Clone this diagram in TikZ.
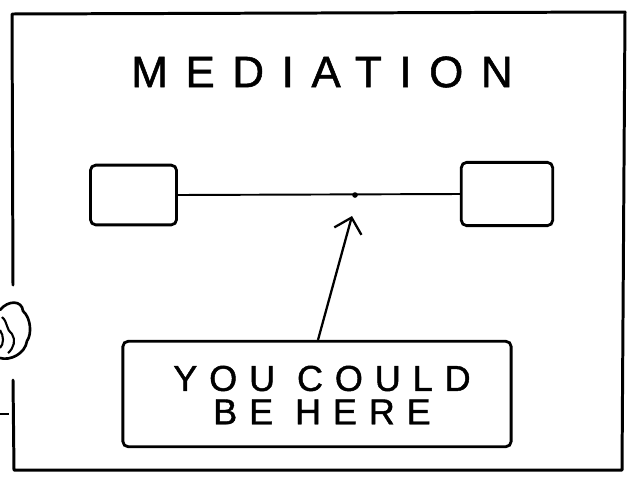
\documentclass[tikz,border=0pt]{standalone}
\usepackage{fontspec}
\setmainfont{Liberation Sans}
\newfontfamily\titlefont[LetterSpace=40,FakeBold=1.2]{Liberation Sans}
\newfontfamily\boxfont[LetterSpace=33,FakeBold=1.2]{Liberation Sans}
\usetikzlibrary{arrows.meta}
\begin{document}
\begin{tikzpicture}[x=0.02cm,y=-0.02cm,
  frame/.style={line width=1.7pt,line cap=round,line join=round},
  boxy/.style={draw,line width=1.6pt,rounded corners=3pt,inner sep=0pt},
  link/.style={line width=1.1pt},
  pointer/.style={line width=1.3pt,-{Straight Barb[length=8pt,width=16pt,line width=1.3pt]}}]
\useasboundingbox (0,0) rectangle (635,477);
% frame
\draw[frame] (13,285) -- (12,14) -- (625,12) -- (622,470) -- (14,470) -- (13,380);
\draw[line width=0.8pt] (0,414) -- (9,414);
% cloud at left edge
\draw[frame,line width=1.5pt] (0,310) .. controls (8,300) and (22,300) .. (23,311)
  .. controls (31,318) and (32,334) .. (27,341)
  .. controls (25,354) and (10,361) .. (0,358);
\draw[line width=1.2pt] (2,317) .. controls (8,322) and (6,330) .. (12,334)
  .. controls (16,340) and (14,348) .. (8,353);
\draw[line width=1.2pt] (0,330) .. controls (4,336) and (4,344) .. (0,348);
% title
\node[font=\titlefont\fontsize{25}{30}\selectfont] (title) at (322,72) {MEDIATION};
% small boxes
\node[boxy,minimum width=49pt,minimum height=34pt] (lbox) at (133.5,195) {};
\node[boxy,minimum width=52pt,minimum height=36pt] (rbox) at (507,194) {};
\draw[link] (lbox.east) -- (rbox.west);
\coordinate (mid) at (355,195);
\fill (mid) circle (1.6pt);
% bottom box
\node[boxy,minimum width=221pt,minimum height=60pt] (here) at (317,394) {};
\node[font=\boxfont\fontsize{20.5}{19}\selectfont,align=center] (txt) at (322,395) {YOU COULD\\BE HERE};
\coordinate (tip) at (352,216);
\draw[pointer] (here.north -| 318,0) -- (tip);
\end{tikzpicture}
\end{document}
